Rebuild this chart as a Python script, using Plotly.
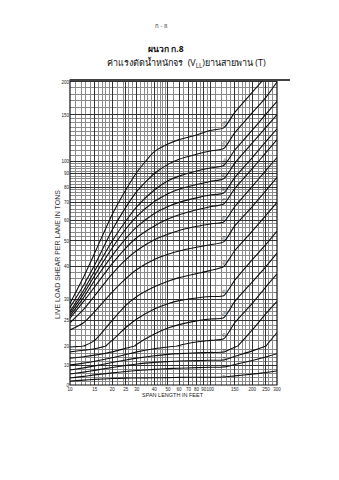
import numpy as np
import plotly.graph_objects as go
from plotly.subplots import make_subplots

# Span lengths (ft) at which each curve is sampled
SPAN_FT = [10, 12.5, 15, 20, 25, 30, 40, 50, 60, 80, 100, 125, 150, 200, 250, 300]

# Tracked-vehicle load classes, one curve each
MLC_CLASSES = [150, 120, 100, 90, 80, 70, 60, 50, 40, 30, 24, 20, 16, 12, 8, 4]

# Live load shear per lane (tons) for each class
shear_150 = [29.0, 36.5, 45.0, 63.0, 78.0, 91.0, 109.0, 116.5, 121.0, 126.0, 131.0, 134.0, 153.5, 183.0, 209.5, 234.5]
shear_120 = [28.0, 34.0, 40.5, 55.0, 67.0, 77.0, 90.0, 97.5, 102.0, 106.5, 109.5, 112.0, 128.5, 153.0, 175.0, 200.0]
shear_100 = [27.0, 32.5, 38.5, 50.0, 59.5, 67.5, 78.0, 84.5, 88.0, 92.0, 94.5, 96.5, 110.5, 131.5, 151.0, 169.0]
shear_90 = [26.5, 31.5, 37.0, 47.0, 55.5, 62.0, 70.5, 75.5, 78.5, 81.8, 84.0, 86.0, 98.5, 117.5, 134.5, 150.5]
shear_80 = [26.0, 30.5, 35.5, 44.0, 51.0, 56.5, 63.5, 67.5, 70.0, 72.8, 74.6, 76.0, 87.0, 103.5, 119.0, 133.0]
shear_70 = [25.5, 29.5, 33.5, 41.0, 47.0, 51.5, 57.0, 60.5, 62.8, 65.6, 67.4, 69.0, 79.0, 94.0, 108.0, 121.0]
shear_60 = [24.5, 27.5, 31.0, 37.5, 42.5, 46.0, 50.5, 53.0, 54.8, 56.8, 58.0, 59.0, 67.5, 80.5, 92.5, 103.5]
shear_50 = [23.0, 24.5, 27.0, 32.0, 36.0, 39.0, 42.5, 44.5, 45.8, 47.3, 48.4, 49.6, 57.0, 67.5, 77.5, 87.0]
shear_40 = [19.5, 20.0, 21.0, 25.0, 28.5, 30.8, 33.5, 35.2, 36.3, 37.6, 38.6, 40.0, 46.0, 54.5, 62.5, 70.0]
shear_30 = [17.0, 17.8, 18.6, 21.0, 23.5, 25.3, 27.6, 28.9, 29.7, 30.4, 30.8, 31.0, 35.5, 42.5, 48.5, 54.5]
shear_24 = [13.8, 14.5, 15.3, 17.0, 18.8, 20.3, 22.2, 23.4, 24.1, 24.9, 25.3, 25.6, 29.5, 35.0, 40.0, 45.0]
shear_20 = [10.3, 11.2, 12.2, 14.0, 15.6, 17.0, 18.6, 19.5, 20.1, 20.7, 21.0, 21.3, 24.5, 29.0, 33.5, 37.5]
shear_16 = [7.7, 8.8, 9.8, 11.5, 12.8, 13.8, 15.0, 15.7, 16.1, 16.5, 16.7, 16.9, 19.4, 23.0, 26.5, 29.5]
shear_12 = [5.6, 6.6, 7.5, 9.0, 10.0, 10.8, 11.6, 12.0, 12.3, 12.5, 12.7, 12.8, 14.7, 17.5, 20.0, 22.5]
shear_8 = [3.6, 4.4, 5.2, 6.2, 6.9, 7.4, 8.0, 8.4, 8.6, 8.9, 9.1, 9.2, 10.5, 12.6, 14.4, 16.0]
shear_4 = [2.0, 2.5, 2.9, 3.3, 3.5, 3.6, 3.7, 3.8, 3.9, 4.0, 4.0, 4.1, 4.7, 5.6, 6.4, 7.2]

CURVES = [shear_150, shear_120, shear_100, shear_90, shear_80, shear_70, shear_60, shear_50,
          shear_40, shear_30, shear_24, shear_20, shear_16, shear_12, shear_8, shear_4]

# Span at which the class labels sit on the curves
LABEL_SPAN = 125

# Axis ticks
X_TICKS = [10, 15, 20, 25, 30, 40, 50, 60, 70, 80, 90, 100, 150, 200, 250, 300]
Y_SPLIT = 20          # below: linear scale, above: logarithmic scale
Y_TOP = 203.5
Y_TICKS_LOW = [0, 10]
Y_TICKS_HIGH = [20, 25, 30, 40, 50, 60, 70, 80, 90, 100, 150, 200]

# Fine graph-paper rulings
X_MINOR = (list(range(10, 20)) + list(range(20, 50, 2)) + list(range(50, 100, 5))
           + list(range(100, 200, 10)) + list(range(200, 301, 20)))
Y_MINOR_HIGH = list(range(20, 30)) + list(range(30, 100, 2)) + list(range(100, 150, 5)) + list(range(150, 201, 10))
Y_MINOR_LOW = list(range(0, 21, 2))

fig = make_subplots(rows=2, cols=1, shared_xaxes=True, vertical_spacing=0,
                    row_heights=[266 / 305, 39 / 305])

for vals in CURVES:
    for row in (1, 2):
        fig.add_trace(go.Scatter(x=SPAN_FT, y=vals, mode="lines",
                                 line=dict(color="#111111", width=1.1, shape="spline", smoothing=0.6),
                                 hoverinfo="skip", showlegend=False), row=row, col=1)

label_idx = SPAN_FT.index(LABEL_SPAN)
for mlc, vals in zip(MLC_CLASSES, CURVES):
    v = vals[label_idx]
    if v >= Y_SPLIT:
        fig.add_annotation(x=np.log10(LABEL_SPAN), y=np.log10(v * 1.04), xref="x", yref="y",
                           text=str(mlc), showarrow=False, textangle=-55,
                           font=dict(size=4, color="#222222", family="Liberation Sans"))
    else:
        fig.add_annotation(x=np.log10(LABEL_SPAN), y=v + 0.9, xref="x2", yref="y2",
                           text=str(mlc), showarrow=False, textangle=-55,
                           font=dict(size=4, color="#222222", family="Liberation Sans"))

tick_font = dict(size=4.5, color="#222222", family="Liberation Sans")
grid_minor = dict(tickmode="array", showgrid=True, gridcolor="#8a8a8a", gridwidth=0.5, ticks="")

for xa in ("xaxis", "xaxis2"):
    fig.layout[xa].update(type="log", range=[1, np.log10(300)], showgrid=True,
                          gridcolor="#333333", gridwidth=0.8,
                          tickvals=X_TICKS, ticktext=[str(t) for t in X_TICKS],
                          tickfont=tick_font, ticks="", zeroline=False,
                          minor=dict(tickvals=X_MINOR, **grid_minor))
fig.layout.xaxis.showticklabels = False
fig.layout.xaxis2.update(showticklabels=True, ticklen=0, tickangle=0)

fig.update_yaxes(type="log", range=[np.log10(Y_SPLIT), np.log10(Y_TOP)], row=1, col=1,
                 tickvals=Y_TICKS_HIGH, ticktext=[str(t) for t in Y_TICKS_HIGH],
                 showgrid=True, gridcolor="#333333", gridwidth=0.8, ticks="", zeroline=False,
                 tickfont=tick_font, minor=dict(tickvals=Y_MINOR_HIGH, **grid_minor))
fig.update_yaxes(type="linear", range=[0, Y_SPLIT], row=2, col=1,
                 tickvals=Y_TICKS_LOW, ticktext=[str(t) for t in Y_TICKS_LOW],
                 showgrid=True, gridcolor="#333333", gridwidth=0.8, ticks="", zeroline=False,
                 tickfont=tick_font, minor=dict(tickvals=Y_MINOR_LOW, **grid_minor))

# Chart frame and heavy top rule
fig.add_shape(type="rect", xref="paper", yref="paper", x0=0, x1=1, y0=0, y1=1,
              line=dict(color="#111111", width=1.2))
fig.add_shape(type="line", xref="paper", yref="paper", x0=0, x1=1.063, y0=1, y1=1,
              line=dict(color="#444444", width=2))

# Page header and titles
fig.add_annotation(xref="paper", yref="paper", x=(161 - 70) / 207, y=1 + (80 - 20) / 305,
                   text="ก - 8", showarrow=False, font=dict(size=6, color="#333333"))
fig.add_annotation(xref="paper", yref="paper", x=(166 - 70) / 207, y=1 + (80 - 49) / 305,
                   yanchor="middle",
                   text="<b>ผนวก ก.8</b>", showarrow=False, font=dict(size=8.5, color="#111111"))
fig.add_annotation(xref="paper", yref="paper", x=(186 - 70) / 207, y=1 + (80 - 63) / 305,
                   yanchor="middle",
                   text="ค่าแรงตัดน้ำหนักจร  (V<sub>LL</sub>)ยานสายพาน (T)", showarrow=False,
                   font=dict(size=9, color="#111111"))
fig.add_annotation(xref="paper", yref="paper", x=(173 - 70) / 207, y=-(400 - 385) / 305,
                   text="SPAN LENGTH IN FEET", showarrow=False,
                   font=dict(size=5.5, color="#222222", family="Liberation Sans"))
fig.add_annotation(xref="paper", yref="paper", x=-(70 - 57) / 207, y=(385 - 255) / 305,
                   xanchor="center", yanchor="middle",
                   text="LIVE LOAD SHEAR PER LANE IN TONS", showarrow=False, textangle=-90,
                   font=dict(size=7, color="#333333", family="Liberation Sans"))

fig.update_layout(width=339, height=480, autosize=False,
                  margin=dict(l=70, r=62, t=80, b=95),
                  paper_bgcolor="white", plot_bgcolor="white",
                  showlegend=False)

fig.write_html("out.html")
